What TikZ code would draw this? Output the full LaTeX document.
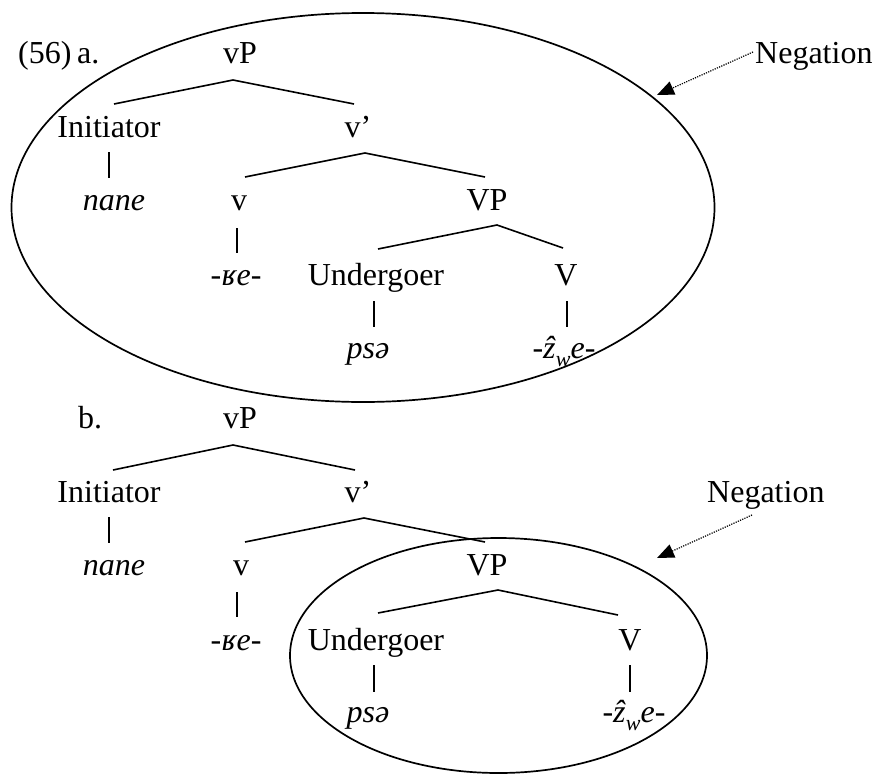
\documentclass[tikz,border=0pt]{standalone}
\usepackage{fontspec}
\setmainfont{Liberation Serif}
\usetikzlibrary{arrows.meta}
\tikzset{
  lbl/.style={anchor=base, inner sep=0pt, font=\fontsize{32}{38}\selectfont},
  lblw/.style={anchor=base west, inner sep=0pt, font=\fontsize{32}{38}\selectfont},
  edge/.style={line width=1.6pt},
  bar/.style={line width=2pt},
  halo/.style={line width=1.7pt},
  neg/.style={line width=1.2pt, dash pattern=on 1.2pt off 1.2pt, -{Triangle[length=17pt,width=14pt]}}
}
\newcommand{\zwe}{-\textit{ẑ}\raisebox{-0.28em}{\fontsize{22}{22}\selectfont\textit{w}}\textit{e}-}
\newcommand{\rbe}{-\textit{ʁe}-}
\begin{document}
\begin{tikzpicture}[x=1pt,y=-1pt]
\useasboundingbox (0,0) rectangle (875,774);

% ---------- (56) a. ----------
\node[lblw] (num) at (18,63) {(56)};
\node[lblw] (la) at (77,63) {a.};
\node[lbl] (vPa) at (240,63) {vP};
\node[lbl] (Inita) at (109,137) {Initiator};
\node[lbl] (vba) at (358,137) {v’};
\node[lbl] (nanea) at (114,210) {\textit{nane}};
\node[lbl] (va) at (239,210) {v};
\node[lbl] (VPa) at (487,210) {VP};
\node[lbl] (rbea) at (236,285) {\rbe};
\node[lbl] (Unda) at (376,285) {Undergoer};
\node[lbl] (Va) at (566,285) {V};
\node[lbl] (psea) at (368,358) {\textit{psə}};
\node[lbl] (zwea) at (564,358) {\zwe};

\coordinate (a1) at (233,80);  \coordinate (a1l) at (114,104); \coordinate (a1r) at (354,104);
\coordinate (a2) at (365,153); \coordinate (a2l) at (245,177); \coordinate (a2r) at (485,177);
\coordinate (a3) at (497,225); \coordinate (a3l) at (378,249); \coordinate (a3r) at (563,248);
\draw[edge] (a1l) -- (a1) -- (a1r);
\draw[edge] (a2l) -- (a2) -- (a2r);
\draw[edge] (a3l) -- (a3) -- (a3r);
\coordinate (ba1) at (109,152); \coordinate (ba1e) at (109,178);
\coordinate (ba2) at (237,228); \coordinate (ba2e) at (237,253);
\coordinate (ba3) at (374,301); \coordinate (ba3e) at (374,327);
\coordinate (ba4) at (567,301); \coordinate (ba4e) at (567,327);
\draw[bar] (ba1) -- (ba1e);
\draw[bar] (ba2) -- (ba2e);
\draw[bar] (ba3) -- (ba3e);
\draw[bar] (ba4) -- (ba4e);

\draw[halo] (363,207.5) ellipse [x radius=351.5, y radius=194.5];
\node[lblw] (nega) at (755,63) {Negation};
\coordinate (tipa) at (657,95);
\draw[neg] (753,52) -- (tipa);

% ---------- b. ----------
\node[lblw] (lb) at (78,428) {b.};
\node[lbl] (vPb) at (240,428) {vP};
\node[lbl] (Initb) at (109,502) {Initiator};
\node[lbl] (vbb) at (358,502) {v’};
\node[lbl] (naneb) at (114,575) {\textit{nane}};
\node[lbl] (vb) at (241,575) {v};
\node[lbl] (VPb) at (487,575) {VP};
\node[lbl] (rbeb) at (236,650) {\rbe};
\node[lbl] (Undb) at (376,650) {Undergoer};
\node[lbl] (Vb) at (630,650) {V};
\node[lbl] (pseb) at (368,722) {\textit{psə}};
\node[lbl] (zweb) at (634,722) {\zwe};

\coordinate (b1) at (233,445); \coordinate (b1l) at (113,470); \coordinate (b1r) at (355,470);
\coordinate (b2) at (364,518); \coordinate (b2l) at (245,542); \coordinate (b2r) at (485,542);
\coordinate (b3) at (498,590); \coordinate (b3l) at (378,613); \coordinate (b3r) at (618,615);
\draw[edge] (b1l) -- (b1) -- (b1r);
\draw[edge] (b2l) -- (b2) -- (b2r);
\draw[edge] (b3l) -- (b3) -- (b3r);
\coordinate (bb1) at (109,517); \coordinate (bb1e) at (109,543);
\coordinate (bb2) at (237,592); \coordinate (bb2e) at (237,617);
\coordinate (bb3) at (374,665); \coordinate (bb3e) at (374,692);
\coordinate (bb4) at (630,665); \coordinate (bb4e) at (630,692);
\draw[bar] (bb1) -- (bb1e);
\draw[bar] (bb2) -- (bb2e);
\draw[bar] (bb3) -- (bb3e);
\draw[bar] (bb4) -- (bb4e);

\draw[halo] (498.5,655.5) ellipse [x radius=208.5, y radius=117.5];
\node[lblw] (negb) at (707,502) {Negation};
\coordinate (tipb) at (657,558);
\draw[neg] (752,515) -- (tipb);
\end{tikzpicture}
\end{document}
